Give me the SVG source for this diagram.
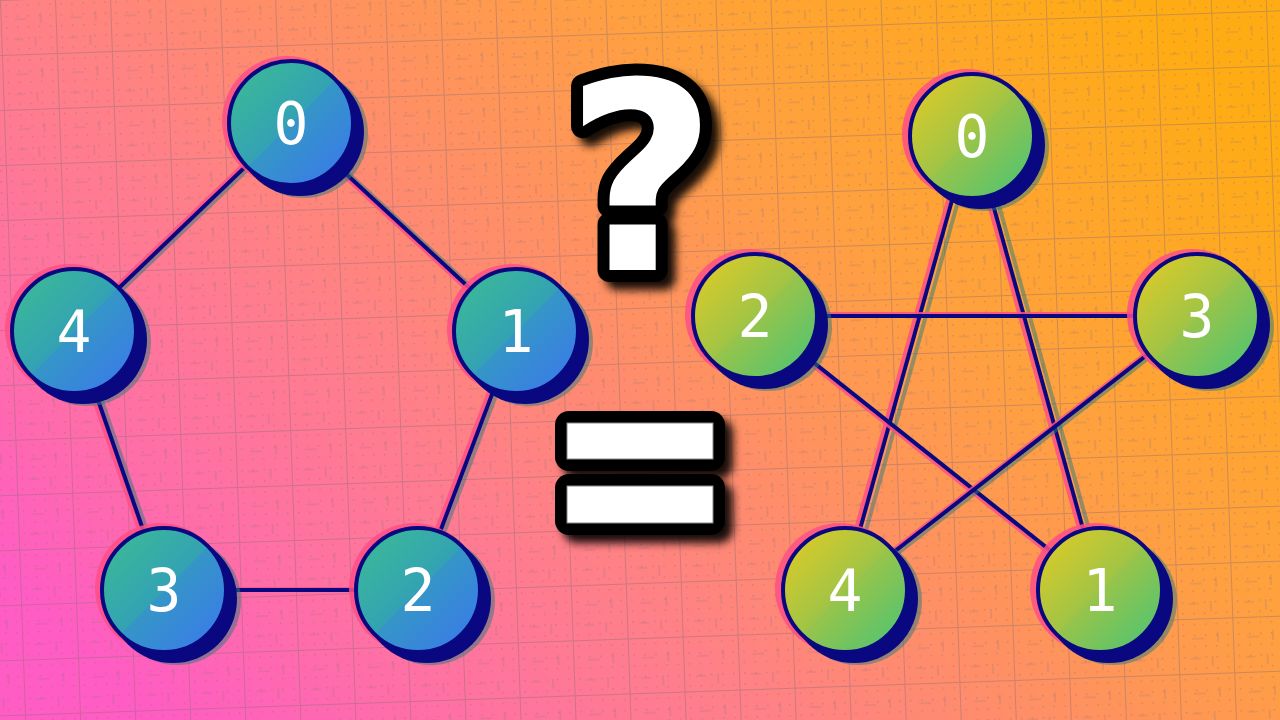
<svg xmlns="http://www.w3.org/2000/svg" width="1280" height="720" viewBox="0 0 1280 720">
  <style>
    .lbl { font-family: "DejaVu Sans Mono", "Liberation Mono", monospace; font-size: 58px; fill: #ffffff; text-anchor: middle; }
    .halo-p { fill: #ff4f86; opacity: 0.85; }
    .halo-g { fill: #2e7a7a; opacity: 0.5; }
    .shadow { fill: #0a0880; }
    .face-l { fill: url(#gradL); stroke: #0a0880; stroke-width: 4; }
    .face-r { fill: url(#gradR); stroke: #0a0880; stroke-width: 4; }
    .e-n { stroke: #0a0880; stroke-width: 4; fill: none; }
    .e-p { stroke: #ff4f86; stroke-width: 4; opacity: 0.85; fill: none; }
    .e-g { stroke: #2e7a7a; stroke-width: 4; opacity: 0.5; fill: none; }
    .grid { stroke: rgb(140,110,120); stroke-opacity: 0.45; stroke-width: 2; fill: none; }
  </style>
  <defs>
    <linearGradient id="bg" x1="0" y1="0.8" x2="1" y2="0.2">
      <stop offset="0" stop-color="#ff5cc4"/>
      <stop offset="0.15" stop-color="#ff6ea8"/>
      <stop offset="0.35" stop-color="#ff8088"/>
      <stop offset="0.5" stop-color="#ff8e68"/>
      <stop offset="0.7" stop-color="#ffa040"/>
      <stop offset="1" stop-color="#ffac14"/>
    </linearGradient>
    <linearGradient id="gradL" x1="0" y1="0" x2="1" y2="1">
      <stop offset="0" stop-color="#3dbe90"/>
      <stop offset="0.5" stop-color="#33a2b4"/>
      <stop offset="0.5" stop-color="#3596c6"/>
      <stop offset="1" stop-color="#3a76f0"/>
    </linearGradient>
    <linearGradient id="gradR" x1="0" y1="0" x2="1" y2="1">
      <stop offset="0" stop-color="#e6cc22"/>
      <stop offset="0.5" stop-color="#a0c446"/>
      <stop offset="0.5" stop-color="#98c44a"/>
      <stop offset="1" stop-color="#44c478"/>
    </linearGradient>
    <pattern id="minor" width="11" height="11" patternUnits="userSpaceOnUse">
      <rect x="5" y="5" width="1.5" height="1.5" fill="rgb(140,110,120)" fill-opacity="0.4"/>
    </pattern>
    <pattern id="major" width="55" height="55" patternUnits="userSpaceOnUse" patternTransform="rotate(-2)">
      <rect width="55" height="55" fill="url(#minor)"/>
      <path d="M0,0 H55 M0,0 V55" class="grid"/>
      <path d="M14,20 H26 M34,38 V48 M40,14 V24 M12,40 H22" stroke="rgb(140,110,120)" stroke-opacity="0.35" stroke-width="1.2"/>
    </pattern>
    <filter id="ds" x="-40%" y="-40%" width="180%" height="180%">
      <feDropShadow dx="8" dy="8" stdDeviation="4" flood-color="#000" flood-opacity="0.9"/>
    </filter>
  </defs>

  <rect width="1280" height="720" fill="url(#bg)"/>
  <rect width="1280" height="720" fill="url(#major)"/>

  <g id="connectors">
    <g id="e-L0-L1"><line class="e-p" x1="287" y1="123" x2="512" y2="331"/><line class="e-g" x1="295" y1="124" x2="520" y2="332"/><line class="e-n" x1="291" y1="123" x2="516" y2="331"/></g>
    <g id="e-L0-L4"><line class="e-p" x1="287" y1="123" x2="70" y2="331"/><line class="e-g" x1="295" y1="124" x2="78" y2="332"/><line class="e-n" x1="291" y1="123" x2="74" y2="331"/></g>
    <g id="e-L4-L3"><line class="e-p" x1="70" y1="331" x2="160" y2="590"/><line class="e-g" x1="78" y1="332" x2="168" y2="591"/><line class="e-n" x1="74" y1="331" x2="164" y2="590"/></g>
    <g id="e-L3-L2"><line class="e-p" x1="164" y1="589" x2="418" y2="589"/><line class="e-n" x1="164" y1="590" x2="418" y2="590"/></g>
    <g id="e-L2-L1"><line class="e-p" x1="414" y1="590" x2="512" y2="331"/><line class="e-g" x1="422" y1="591" x2="520" y2="332"/><line class="e-n" x1="418" y1="590" x2="516" y2="331"/></g>

    <g id="e-R0-R4"><line class="e-p" x1="966" y1="136" x2="839" y2="590"/><line class="e-g" x1="976" y1="137" x2="849" y2="591"/><line class="e-n" x1="970" y1="136" x2="843" y2="590"/></g>
    <g id="e-R0-R1"><line class="e-p" x1="970" y1="136" x2="1096" y2="590"/><line class="e-g" x1="980" y1="137" x2="1106" y2="591"/><line class="e-n" x1="974" y1="136" x2="1100" y2="590"/></g>
    <g id="e-R2-R3"><line class="e-p" x1="755" y1="314" x2="1197" y2="314"/><line class="e-n" x1="755" y1="316" x2="1197" y2="316"/></g>
    <g id="e-R2-R1"><line class="e-p" x1="753" y1="318" x2="1098" y2="592"/><line class="e-g" x1="759" y1="319" x2="1104" y2="593"/><line class="e-n" x1="755" y1="316" x2="1100" y2="590"/></g>
    <g id="e-R3-R4"><line class="e-p" x1="1194" y1="316" x2="842" y2="590"/><line class="e-g" x1="1200" y1="318" x2="848" y2="592"/><line class="e-n" x1="1197" y1="316" x2="845" y2="590"/></g>
  </g>

  <g id="L0" transform="translate(291,123)"><circle class="halo-p" cx="-4" cy="-2" r="65"/><circle class="halo-g" cx="13" cy="11" r="64"/><circle class="shadow" cx="9" cy="9" r="64"/><circle class="face-l" r="62"/><text class="lbl" y="21">0</text></g>
  <g id="L1" transform="translate(516,331)"><circle class="halo-p" cx="-4" cy="-2" r="65"/><circle class="halo-g" cx="13" cy="11" r="64"/><circle class="shadow" cx="9" cy="9" r="64"/><circle class="face-l" r="62"/><text class="lbl" y="21">1</text></g>
  <g id="L2" transform="translate(418,590)"><circle class="halo-p" cx="-4" cy="-2" r="65"/><circle class="halo-g" cx="13" cy="11" r="64"/><circle class="shadow" cx="9" cy="9" r="64"/><circle class="face-l" r="62"/><text class="lbl" y="21">2</text></g>
  <g id="L3" transform="translate(164,590)"><circle class="halo-p" cx="-4" cy="-2" r="65"/><circle class="halo-g" cx="13" cy="11" r="64"/><circle class="shadow" cx="9" cy="9" r="64"/><circle class="face-l" r="62"/><text class="lbl" y="21">3</text></g>
  <g id="L4" transform="translate(74,331)"><circle class="halo-p" cx="-4" cy="-2" r="65"/><circle class="halo-g" cx="13" cy="11" r="64"/><circle class="shadow" cx="9" cy="9" r="64"/><circle class="face-l" r="62"/><text class="lbl" y="21">4</text></g>

  <g id="R0" transform="translate(972,136)"><circle class="halo-p" cx="-5" cy="-2" r="65"/><circle class="halo-g" cx="13" cy="11" r="64"/><circle class="shadow" cx="9" cy="9" r="64"/><circle class="face-r" r="62"/><text class="lbl" y="21">0</text></g>
  <g id="R1" transform="translate(1100,590)"><circle class="halo-p" cx="-5" cy="-2" r="65"/><circle class="halo-g" cx="13" cy="11" r="64"/><circle class="shadow" cx="9" cy="9" r="64"/><circle class="face-r" r="62"/><text class="lbl" y="21">1</text></g>
  <g id="R2" transform="translate(755,316)"><circle class="halo-p" cx="-5" cy="-2" r="65"/><circle class="halo-g" cx="13" cy="11" r="64"/><circle class="shadow" cx="9" cy="9" r="64"/><circle class="face-r" r="62"/><text class="lbl" y="21">2</text></g>
  <g id="R3" transform="translate(1197,316)"><circle class="halo-p" cx="-5" cy="-2" r="65"/><circle class="halo-g" cx="13" cy="11" r="64"/><circle class="shadow" cx="9" cy="9" r="64"/><circle class="face-r" r="62"/><text class="lbl" y="21">3</text></g>
  <g id="R4" transform="translate(845,590)"><circle class="halo-p" cx="-5" cy="-2" r="65"/><circle class="halo-g" cx="13" cy="11" r="64"/><circle class="shadow" cx="9" cy="9" r="64"/><circle class="face-r" r="62"/><text class="lbl" y="21">4</text></g>

  <g id="question">
    <text x="641" y="270" font-family="DejaVu Sans, sans-serif" font-weight="bold" font-size="262" text-anchor="middle" fill="#ffffff" stroke="#000000" stroke-width="24" stroke-linejoin="round" paint-order="stroke" filter="url(#ds)">?</text>
  </g>

  <g id="equals">
    <g filter="url(#ds)">
      <rect x="555" y="411" width="170" height="60" rx="14" fill="#000"/>
      <rect x="555" y="474" width="170" height="61" rx="14" fill="#000"/>
    </g>
    <rect x="567" y="423" width="146" height="36" fill="#ffffff" stroke="#888" stroke-width="1"/>
    <rect x="567" y="486" width="146" height="37" fill="#ffffff" stroke="#888" stroke-width="1"/>
  </g>
</svg>
